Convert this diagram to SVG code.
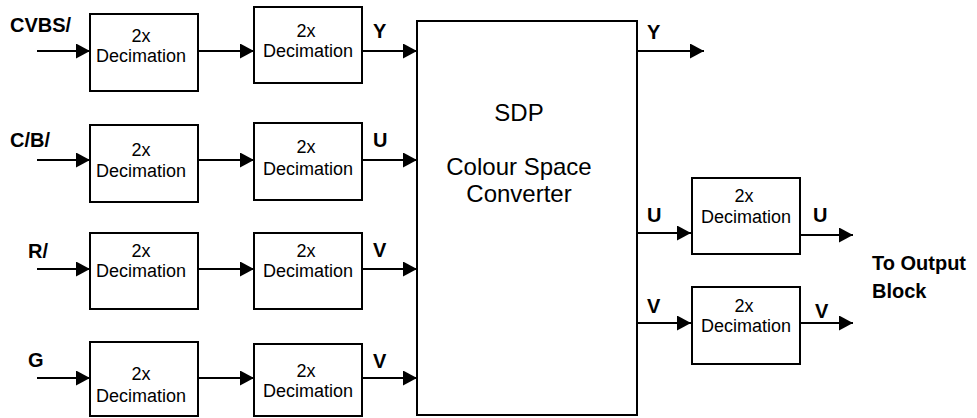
<svg xmlns="http://www.w3.org/2000/svg" width="977" height="418" viewBox="0 0 977 418">
  <style>
    .box { fill: #ffffff; stroke: #000000; stroke-width: 2; }
    .wire { fill: none; stroke: #000000; stroke-width: 2; marker-end: url(#head); }
    .t { font-family: "Liberation Sans", Arial, sans-serif; font-size: 18px; fill: #000000; text-anchor: middle; }
    .big { font-family: "Liberation Sans", Arial, sans-serif; font-size: 24px; fill: #000000; text-anchor: middle; }
    .lbl { font-family: "Liberation Sans", Arial, sans-serif; font-size: 20px; font-weight: bold; fill: #000000; }
  </style>
  <defs>
    <marker id="head" markerUnits="userSpaceOnUse" markerWidth="14" markerHeight="15" refX="14" refY="7.5" orient="auto">
      <path d="M0,0 L14,7.5 L0,15 z" fill="#000000"/>
    </marker>
  </defs>
  <rect width="977" height="418" fill="#ffffff"/>

  <!-- input labels -->
  <text class="lbl" x="10" y="32">CVBS/</text>
  <text class="lbl" x="10" y="147">C/B/</text>
  <text class="lbl" x="28" y="258">R/</text>
  <text class="lbl" x="28" y="367">G</text>

  <!-- first decimation stage -->
  <g id="dec1a">
    <rect class="box" x="90" y="14" width="108" height="77"/>
    <text class="t" x="141" y="42">2x</text>
    <text class="t" x="141" y="62">Decimation</text>
  </g>
  <g id="dec2a">
    <rect class="box" x="90" y="125" width="108" height="77"/>
    <text class="t" x="141" y="156">2x</text>
    <text class="t" x="141" y="177">Decimation</text>
  </g>
  <g id="dec3a">
    <rect class="box" x="90" y="233" width="108" height="76"/>
    <text class="t" x="141" y="257">2x</text>
    <text class="t" x="141" y="277">Decimation</text>
  </g>
  <g id="dec4a">
    <rect class="box" x="90" y="342" width="108" height="74"/>
    <text class="t" x="141" y="380">2x</text>
    <text class="t" x="141" y="402">Decimation</text>
  </g>

  <!-- second decimation stage -->
  <g id="dec1b">
    <rect class="box" x="254" y="7" width="108" height="76"/>
    <text class="t" x="306" y="37">2x</text>
    <text class="t" x="308" y="57">Decimation</text>
  </g>
  <g id="dec2b">
    <rect class="box" x="254" y="123" width="108" height="77"/>
    <text class="t" x="306" y="153">2x</text>
    <text class="t" x="308" y="175">Decimation</text>
  </g>
  <g id="dec3b">
    <rect class="box" x="254" y="233" width="108" height="76"/>
    <text class="t" x="306" y="257">2x</text>
    <text class="t" x="308" y="277">Decimation</text>
  </g>
  <g id="dec4b">
    <rect class="box" x="254" y="344" width="108" height="72"/>
    <text class="t" x="306" y="377">2x</text>
    <text class="t" x="308" y="397">Decimation</text>
  </g>

  <!-- colour space converter -->
  <g id="sdp">
    <rect class="box" x="417" y="21" width="220" height="394"/>
    <text class="big" x="519" y="121">SDP</text>
    <text class="big" x="519" y="175">Colour Space</text>
    <text class="big" x="519" y="202">Converter</text>
  </g>

  <!-- output decimation -->
  <g id="decU">
    <rect class="box" x="692" y="178" width="108" height="76"/>
    <text class="t" x="744" y="202">2x</text>
    <text class="t" x="746" y="223">Decimation</text>
  </g>
  <g id="decV">
    <rect class="box" x="692" y="287" width="108" height="77"/>
    <text class="t" x="744" y="312">2x</text>
    <text class="t" x="746" y="332">Decimation</text>
  </g>

  <!-- connectors -->
  <g id="connectors">
    <line class="wire" x1="37" y1="51" x2="90" y2="51"/>
    <line class="wire" x1="37" y1="160" x2="90" y2="160"/>
    <line class="wire" x1="37" y1="269" x2="90" y2="269"/>
    <line class="wire" x1="37" y1="378" x2="90" y2="378"/>

    <line class="wire" x1="198" y1="51" x2="254" y2="51"/>
    <line class="wire" x1="198" y1="160" x2="254" y2="160"/>
    <line class="wire" x1="198" y1="269" x2="254" y2="269"/>
    <line class="wire" x1="198" y1="378" x2="254" y2="378"/>

    <line class="wire" x1="362" y1="51" x2="417" y2="51"/>
    <line class="wire" x1="362" y1="160" x2="417" y2="160"/>
    <line class="wire" x1="362" y1="269" x2="417" y2="269"/>
    <line class="wire" x1="362" y1="378" x2="417" y2="378"/>

    <line class="wire" x1="637" y1="51" x2="704" y2="51"/>
    <line class="wire" x1="637" y1="233" x2="691" y2="233"/>
    <line class="wire" x1="637" y1="323" x2="691" y2="323"/>

    <line class="wire" x1="800" y1="235" x2="853" y2="235"/>
    <line class="wire" x1="800" y1="323" x2="853" y2="323"/>
  </g>

  <!-- signal labels -->
  <text class="lbl" x="373" y="38">Y</text>
  <text class="lbl" x="373" y="147">U</text>
  <text class="lbl" x="373" y="257">V</text>
  <text class="lbl" x="373" y="368">V</text>
  <text class="lbl" x="647" y="39">Y</text>
  <text class="lbl" x="647" y="222">U</text>
  <text class="lbl" x="647" y="313">V</text>
  <text class="lbl" x="813" y="222">U</text>
  <text class="lbl" x="815" y="318">V</text>
  <text class="lbl" x="872" y="270">To Output</text>
  <text class="lbl" x="872" y="298">Block</text>
</svg>
